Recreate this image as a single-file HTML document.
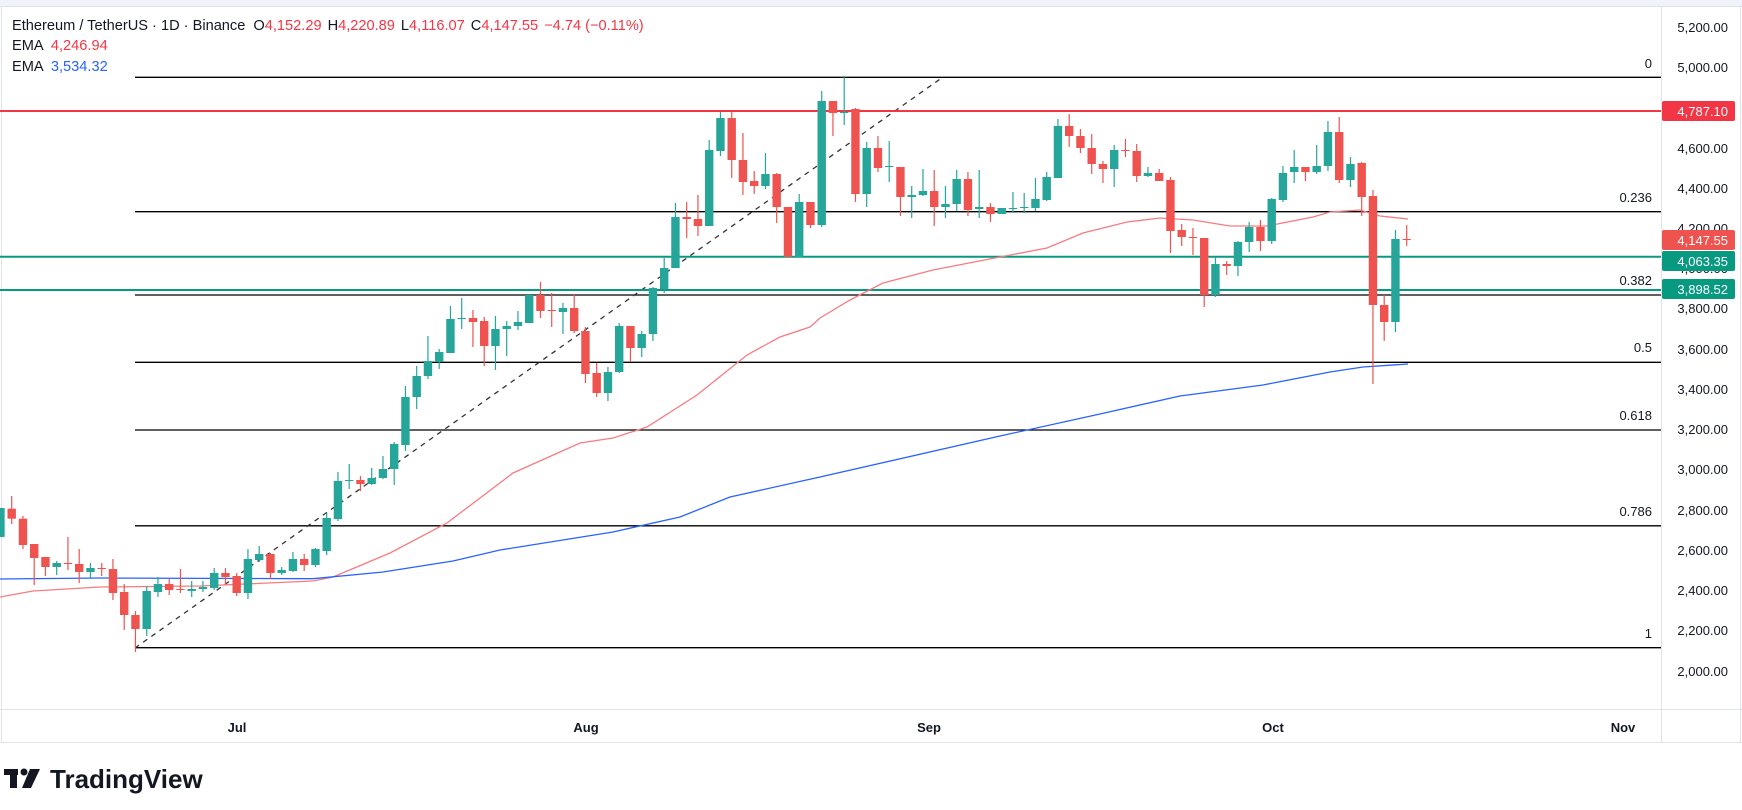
<!DOCTYPE html>
<html><head><meta charset="utf-8">
<style>
html,body{margin:0;padding:0;background:#fff;}
body{width:1742px;height:810px;overflow:hidden;position:relative;font-family:"Liberation Sans",sans-serif;}
svg{position:absolute;left:0;top:0;}
</style></head>
<body>
<svg id="s" width="1742" height="810" xmlns="http://www.w3.org/2000/svg">
<rect x="0" y="0" width="1742" height="6" fill="#f0f3fa"/>
<line x1="0" y1="6.5" x2="1742" y2="6.5" stroke="#e0e3eb"/>
<line x1="1.5" y1="6" x2="1.5" y2="742" stroke="#e0e3eb"/>
<line x1="1661.5" y1="6" x2="1661.5" y2="742" stroke="#e0e3eb"/>
<line x1="1740.5" y1="6" x2="1740.5" y2="742" stroke="#e0e3eb"/>
<line x1="0" y1="709.5" x2="1742" y2="709.5" stroke="#e0e3eb"/>
<line x1="0" y1="742.5" x2="1742" y2="742.5" stroke="#e0e3eb"/>
<g id="fib" stroke="#000" stroke-width="1.3">
<line x1="135" y1="77.3" x2="1661" y2="77.3"/>
<line x1="135" y1="211.7" x2="1661" y2="211.7"/>
<line x1="135" y1="295" x2="1661" y2="295"/>
<line x1="135" y1="362.3" x2="1661" y2="362.3"/>
<line x1="135" y1="430" x2="1661" y2="430"/>
<line x1="135" y1="525.8" x2="1661" y2="525.8"/>
<line x1="135" y1="647.7" x2="1661" y2="647.7"/>
</g>
<g font-size="13" fill="#131722" text-anchor="end">
<text x="1652" y="68">0</text>
<text x="1652" y="202">0.236</text>
<text x="1652" y="285">0.382</text>
<text x="1652" y="352">0.5</text>
<text x="1652" y="420">0.618</text>
<text x="1652" y="516">0.786</text>
<text x="1652" y="638">1</text>
</g>
<line x1="135" y1="648" x2="943" y2="77" stroke="#333" stroke-width="1.3" stroke-dasharray="5,5"/>
<line x1="0" y1="111" x2="1661" y2="111" stroke="#f23645" stroke-width="2"/>
<line x1="0" y1="256.7" x2="1661" y2="256.7" stroke="#089981" stroke-width="2"/>
<line x1="0" y1="290" x2="1661" y2="290" stroke="#089981" stroke-width="2"/>
<polyline fill="none" stroke="#f77c80" stroke-width="1.3" points="0,597 33,591 100,587 200,586 313,581 333,577 390,553 447,523 513,473 580,443 613,438 647,427 697,395 747,355 780,337 810,327 820,318 850,300 883,283 933,270 1000,257 1047,248 1083,233 1127,222 1160,218 1193,220 1230,226 1267,226 1313,217 1330,212 1360,210 1380,216 1408,219"/>
<polyline fill="none" stroke="#2962ff" stroke-width="1.3" points="0,579 100,578 313,578.7 383,572 453,561 500,550 613,532 680,517 730,497 820,477 1000,436 1100,414 1180,396 1263,385 1330,372 1363,367 1408,364"/>
<g id="c"></g>
<g font-size="13" fill="#131722" text-anchor="end">
<text x="1728" y="32">5,200.00</text>
<text x="1728" y="72">5,000.00</text>
<text x="1728" y="153">4,600.00</text>
<text x="1728" y="193">4,400.00</text>
<text x="1728" y="233">4,200.00</text>
<text x="1728" y="273">4,000.00</text>
<text x="1728" y="313">3,800.00</text>
<text x="1728" y="354">3,600.00</text>
<text x="1728" y="394">3,400.00</text>
<text x="1728" y="434">3,200.00</text>
<text x="1728" y="474">3,000.00</text>
<text x="1728" y="515">2,800.00</text>
<text x="1728" y="555">2,600.00</text>
<text x="1728" y="595">2,400.00</text>
<text x="1728" y="635">2,200.00</text>
<text x="1728" y="676">2,000.00</text>
</g>
<rect x="1662" y="101" width="73" height="20" rx="2" fill="#f23645"/>
<text x="1728" y="116" font-size="13" fill="#fff" text-anchor="end">4,787.10</text>
<rect x="1662" y="230" width="73" height="20" rx="2" fill="#ef5350"/>
<text x="1728" y="245" font-size="13" fill="#fff" text-anchor="end">4,147.55</text>
<rect x="1662" y="251" width="73" height="20" rx="2" fill="#089981"/>
<text x="1728" y="266" font-size="13" fill="#fff" text-anchor="end">4,063.35</text>
<rect x="1662" y="279" width="73" height="20" rx="2" fill="#089981"/>
<text x="1728" y="294" font-size="13" fill="#fff" text-anchor="end">3,898.52</text>
<g font-size="13" fill="#131722" text-anchor="middle" font-weight="bold">
<text x="237" y="732">Jul</text>
<text x="586" y="732">Aug</text>
<text x="929" y="732">Sep</text>
<text x="1273" y="732">Oct</text>
<text x="1623" y="732">Nov</text>
</g>
<g font-size="14.6">
<text x="12" y="30" fill="#131722">Ethereum / TetherUS · 1D · Binance <tspan dx="4">O</tspan><tspan fill="#f23645">4,152.29</tspan><tspan dx="6">H</tspan><tspan fill="#f23645">4,220.89</tspan><tspan dx="6">L</tspan><tspan fill="#f23645">4,116.07</tspan><tspan dx="6">C</tspan><tspan fill="#f23645">4,147.55</tspan><tspan dx="6" fill="#f23645">−4.74 (−0.11%)</tspan></text>
<text x="12" y="50" fill="#131722">EMA <tspan dx="4" fill="#f23645">4,246.94</tspan></text>
<text x="12" y="71" fill="#131722">EMA <tspan dx="4" fill="#2962ff">3,534.32</tspan></text>
</g>
<g fill="#131722">
<rect x="4" y="769" width="14" height="6"/>
<rect x="10" y="769" width="7" height="19"/>
<circle cx="24" cy="772" r="3.5"/>
<polygon points="30,769 40,769 31,788 22,788"/>
<text x="50" y="788" font-size="26" font-weight="bold">TradingView</text>
</g>
</svg>
<script>
var D=[
['g',508,537,508,537],['r',508.7,518.7,496,524],['r',518.7,545,516,549],['r',544,558,544,585],['r',557,567,557,576],
['g',563,567,561,575],['r',563,564,537,570],['r',564,572,549,583],['g',568,572,563,579],['r',568,569,563,576],
['r',569,593,559,600],['r',592,615,584,630],['r',615,629,611,652],['g',591,629,586,636],['g',584,592,577,597],
['r',584,590,579,595],['r',589,590,569,593],['g',589,591,581,597],['g',587,589,581,592],['g',573,588,568,590],
['r',573,577,568,584],['r',576,593,573,596],['g',559,593,549,599],['g',554,560,546,562],['r',554,573,553,579],
['g',570,573,567,575],['g',559,571,552,572],['r',559,565,554,571],['g',549,565,548,567],['g',518,551,513,555],
['g',481,519,472,521],['g',480,481,464,489],['r',480,484,476,491],['g',478,484,468,485],['g',469,478,456,479],
['g',444,469,442,485],['g',397,445,386,451],['g',376,397,366,409],['g',361,376,336,379],['g',352,362,349,369],
['g',319,353,306,353],['g',318,319,298,329],['r',318,322,310,347],['r',321,346,317,366],['g',329,346,316,370],
['g',326,329,321,356],['g',322,326,311,330],['g',295,323,294,323],['r',295,311,282,318],['r',310,311,293,327],
['g',308,312,303,334],['r',308,331,294,333],['r',331,374,327,383],['r',373,393,363,397],['g',372,393,367,401],
['g',326,372,323,373],['r',326,348,326,362],['g',334,348,331,357],['g',288,334,287,341],['g',268,289,258,293],
['g',217,268,203,268],['r',217,219,202,238],['r',219,226,195,236],['g',150,226,140,226],['g',118,151,112,156],
['r',118,160,112,178],['r',160,182,133,195],['r',181,186,171,194],['g',174,186,153,189],['r',174,207,173,223],
['r',207,257,207,257],['g',202,257,194,257],['r',202,225,202,228],['g',101,225,91,227],['r',101,113,101,136],
['g',112,113,76,125],['r',109,194,108,202],['g',148,194,142,207],['r',148,168,136,172],['g',166,167,141,182],
['r',167,197,167,216],['g',195,197,186,218],['g',191,195,169,196],['r',191,207,170,226],['g',204,207,186,218],
['g',179,204,170,211],['r',179,210,172,216],['g',207,209,170,218],['r',207,214,203,222],['g',208,214,208,214],
['g',208,208.5,192,213],['g',207,208,193,213],['g',199,208,178,211],['g',177,200,172,201],['g',126,178,119,178],
['r',126,136,114,147],['r',136,148,129,153],['r',148,164,134,174],['r',164,169,161,183],['g',150,169,145,187],
['r',150,151,139,157],['r',151,176,144,182],['g',173,176,167,177],['r',173,181,169,181],['r',180,231,177,253],
['r',230,237,224,246],['r',237,238,228,255],['r',238,295,238,307],['g',264,295,257,297],['r',264,266,261,275],
['g',242,266,241,276],['g',227,242,222,252],['r',227,241,220,251],['g',199,241,198,244],['g',173,200,166,202],
['g',167,172,150,183],['r',167,172,167,181],['g',166,172,145,174],['g',132,166,121,171],['r',132,180,117,183],
['g',164,180,157,187],['r',163,197,162,216],['r',196,305,190,384],['r',305,322,295,341],['g',239,322,230,332],
['r',239,240,225,246]];
var h='';
D.forEach(function(c,i){var x=0.45+11.25*i;var col=c[0]=='g'?'#26a69a':'#ef5350';
var bh=Math.max(1,c[2]-c[1]);
h+='<line x1="'+x+'" x2="'+x+'" y1="'+c[3]+'" y2="'+c[4]+'" stroke="'+col+'" stroke-width="1.2"/>';
h+='<rect x="'+(x-4.2)+'" y="'+c[1]+'" width="8.4" height="'+bh+'" fill="'+col+'"/>';});
document.getElementById('c').innerHTML=h;
</script>
</body></html>
